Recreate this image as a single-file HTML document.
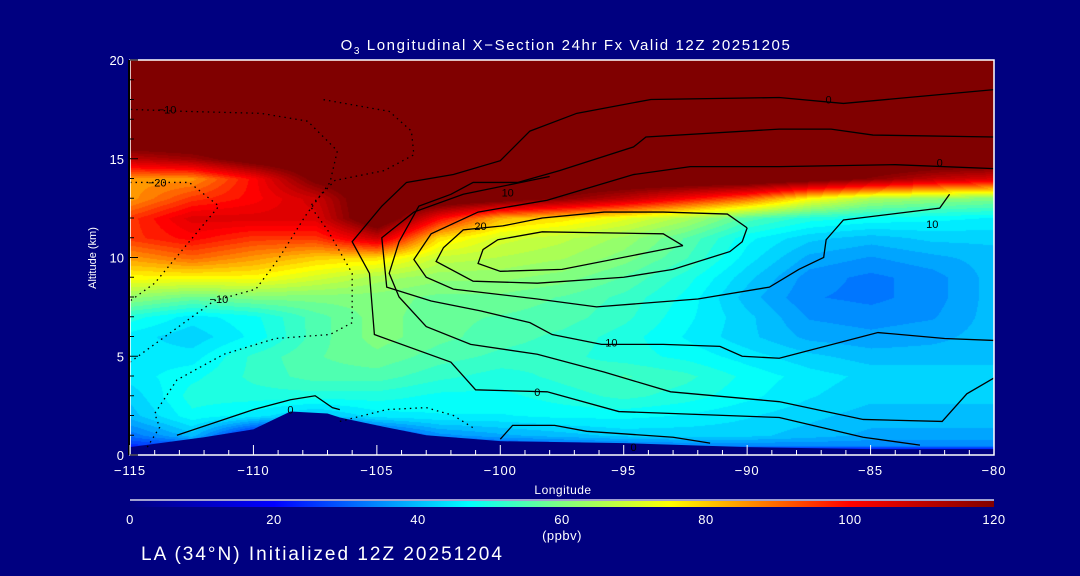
<!DOCTYPE html>
<html><head><meta charset="utf-8"><style>
html,body{margin:0;padding:0;background:#000080;}
#wrap{position:relative;width:1080px;height:576px;background:#000080;overflow:hidden;font-family:"Liberation Sans",sans-serif;color:#fff;}
svg text{font-family:"Liberation Sans",sans-serif;fill:#fff;}
</style></head><body>
<div id="wrap">
<canvas id="cv" width="864" height="395" style="position:absolute;left:130px;top:60px"></canvas>
<svg id="sv" width="1080" height="576" style="position:absolute;left:0;top:0"></svg>
</div>
<script>
const lons=[-115,-112.5,-110,-107.5,-105,-102.5,-100,-97.5,-95,-92.5,-90,-87.5,-85,-82.5,-80];
const alts=[0,0.5,1,2,3,4,5,6,7,8,9,10,11,12,13,14,15,16,20];
const ozone=[
[5,5,5,5,5,5,5,5,5,5,5,5,5,5,5],
[25,28,10,10,15,22,28,30,32,34,34,34,34,34,34],
[32,40,20,10,25,35,38,40,42,42,42,40,38,38,38],
[40,48,45,40,45,46,46,47,47,46,44,42,40,40,40],
[42,50,50,50,50,48,48,50,52,50,47,44,42,42,42],
[45,48,52,55,55,52,50,52,54,52,48,45,43,43,43],
[45,45,52,56,58,55,53,52,50,48,45,42,40,40,40],
[45,42,47,55,60,57,55,53,50,46,42,38,37,38,40],
[50,45,48,55,60,57,56,55,52,47,42,36,35,36,40],
[62,58,60,60,60,58,58,56,53,48,40,34,33,35,40],
[75,75,75,70,65,62,62,60,56,50,42,35,33,35,40],
[85,90,85,80,78,68,66,64,60,54,45,38,36,38,40],
[95,100,95,95,108,78,70,67,63,56,47,42,40,42,42],
[95,105,105,105,130,100,82,78,72,65,55,50,48,47,46],
[85,95,100,108,130,130,125,118,110,100,90,75,65,62,60],
[85,85,100,122,130,130,130,130,130,130,130,125,118,110,105],
[110,115,125,130,130,130,130,130,130,130,130,130,130,130,130],
[130,130,130,130,130,130,130,130,130,130,130,130,130,130,130],
[130,130,130,130,130,130,130,130,130,130,130,130,130,130,130]];
const terrainLon=[-115,-112,-110,-108.5,-107,-106.5,-105,-103,-100,-95,-90,-85,-80];
const terrainAlt=[0.4,0.9,1.3,2.2,2.1,1.9,1.5,1.0,0.7,0.6,0.4,0.3,0.3];
const contourSolid=[
[[-80,18.5],[-86.1,17.8],[-88.7,18.1],[-93.9,18.0],[-96.9,17.3],[-98.8,16.4],[-100,14.9],[-101.9,14.2],[-103.8,13.8],[-104.8,12.6],[-106,10.8],[-105.3,9.2],[-105.1,6.1],[-102,4.7],[-101,3.3],[-98.1,3.2],[-95.2,2.2],[-88.7,1.9],[-85.3,0.9],[-83,0.5]],
[[-80,16.1],[-84.9,16.2],[-86.6,16.5],[-88.7,16.5],[-94.1,16.1],[-94.6,15.6],[-97.6,14.4],[-99.3,13.8],[-101.1,13.8],[-102,13.2],[-103.3,12.6],[-104.1,10.8],[-104.5,9.2],[-104.1,8],[-103,6.5],[-101.2,5.6],[-98.5,5.1],[-95.8,4.2],[-93.1,3.2],[-88.7,2.7],[-85.3,1.8],[-82.1,1.7],[-81.1,3.1],[-80,3.9]],
[[-80,14.5],[-84,14.7],[-88.7,14.6],[-92.3,14.6],[-94.6,14.2],[-98.1,12.9],[-100.9,12.3],[-102.8,11.2],[-103.5,9.9],[-103,9],[-101.9,8.4],[-98.5,7.9],[-96.1,7.5],[-92,7.9],[-89.1,8.5],[-87.9,9.4],[-86.9,10],[-86.8,10.9],[-86.1,11.9],[-82.2,12.5],[-81.8,13.2]],
[[-90,11.5],[-90.8,12.2],[-93.4,12.3],[-95.8,12.3],[-98.3,12],[-99.9,11.6],[-101.5,11.4],[-102.3,10.5],[-102.6,9.8],[-101.1,8.8],[-98.5,8.7],[-95,9],[-93,9.4],[-90.7,10.3],[-90.2,10.8],[-90,11.5]],
[[-92.6,10.6],[-93.4,11.2],[-98.3,11.3],[-100.1,10.9],[-100.7,10.4],[-100.9,9.7],[-100,9.3],[-97.5,9.4],[-92.6,10.6]],
[[-80,5.8],[-82,5.9],[-84.7,6.2],[-88.7,4.9],[-90.2,5],[-91.1,5.5],[-93.4,5.6],[-95.9,5.6],[-97.9,6.1],[-98.8,6.7],[-100.8,7.3],[-102.8,7.8],[-104.6,8.5],[-104.8,11],[-103.5,12.3],[-101.5,13.2],[-98,14.1]],
[[-113.1,1.0],[-110,2.3],[-108.5,2.8],[-107.5,3.0],[-106.8,2.4],[-106.5,2.3]],
[[-100,0.8],[-99.5,1.5],[-97.8,1.5],[-96.5,1.2],[-93,0.9],[-91.5,0.6]]];
const contourDotted=[
[[-115,4.7],[-111.6,7.8],[-109.9,8.4],[-109,9.9],[-107.9,12.1],[-106.9,13.8],[-106.6,15.4],[-107.8,16.9],[-109.7,17.3],[-112.8,17.4],[-115,17.5]],
[[-114.3,0.4],[-113.8,1.4],[-114,2.1],[-113.1,3.8],[-111.2,5.1],[-109.1,5.9],[-106.9,6.1],[-106,6.7],[-106,9.2],[-107,11.4],[-107.7,12.6],[-106.7,13.9],[-104.7,14.4],[-103.5,15.2],[-103.6,16.4],[-104.5,17.4],[-107.2,18.0]],
[[-115,13.8],[-112.6,13.8],[-111.4,12.6],[-112.8,10.5],[-114,8.7],[-115,7.8]],
[[-106.5,1.7],[-104.6,2.3],[-103,2.4],[-101.9,2.0],[-101,1.3]]];
const contourLabels=[["0",-86.7,18.0],["0",-82.2,14.8],["10",-99.7,13.3],["20",-100.8,11.6],["10",-95.5,5.7],["10",-82.5,11.7],["0",-98.5,3.2],["0",-94.6,0.4],["0",-108.5,2.3],["−10",-113.5,17.5],["−20",-113.9,13.8],["−10",-111.4,7.9]];
const xTicks=[-115,-110,-105,-100,-95,-90,-85,-80];
const yTicks=[0,5,10,15,20];
const cbTicks=[0,20,40,60,80,100,120];

const X0=130,X1=994,Y0=60,Y1=455;
const xs=v=>X0+(v-(-115))/35*(X1-X0);
const ys=v=>Y1-(v/20)*(Y1-Y0);
const stops=[[0,[0,0,128]],[20,[0,0,255]],[47,[0,255,255]],[60,[128,255,128]],[75,[255,255,0]],[100,[255,0,0]],[120,[128,0,0]]];
function cmap(v){v=Math.max(0,Math.min(120,Math.round(v/2.5)*2.5));
 for(let i=1;i<stops.length;i++){if(v<=stops[i][0]){const a=stops[i-1],b=stops[i],t=(v-a[0])/(b[0]-a[0]);return a[1].map((c,k)=>Math.round(c+(b[1][k]-c)*t));}}return stops[stops.length-1][1];}
function idx(arr,v){for(let i=0;i<arr.length-1;i++){if(v<=arr[i+1])return [i,(v-arr[i])/(arr[i+1]-arr[i])];}return [arr.length-2,1];}
const cv=document.getElementById('cv'),ctx=cv.getContext('2d');
const img=ctx.createImageData(864,395);
for(let py=0;py<395;py++){const alt=(395-py)/395*20;const [j,ty]=idx(alts,alt);
 for(let px=0;px<864;px++){const lon=-115+px/864*35;const [i,tx]=idx(lons,lon);
  const v=(ozone[j][i]*(1-tx)+ozone[j][i+1]*tx)*(1-ty)+(ozone[j+1][i]*(1-tx)+ozone[j+1][i+1]*tx)*ty;
  const c=cmap(v);const o=(py*864+px)*4;img.data[o]=c[0];img.data[o+1]=c[1];img.data[o+2]=c[2];img.data[o+3]=255;}}
ctx.putImageData(img,0,0);
const NS='http://www.w3.org/2000/svg',sv=document.getElementById('sv');
function mk(t,a,p){const e=document.createElementNS(NS,t);for(const k in a)e.setAttribute(k,a[k]);(p||sv).appendChild(e);return e;}
let tp='M'+xs(-115)+','+ys(0);terrainLon.forEach((l,i)=>tp+=' L'+xs(l)+','+ys(terrainAlt[i]));tp+=' L'+xs(-80)+','+ys(0)+' Z';
const ter=mk('path',{d:tp,fill:'#000080'});


contourSolid.forEach(line=>{const e=mk('polyline',{points:line.map(p=>xs(p[0])+','+ys(p[1])).join(' '),fill:'none',stroke:'#000','stroke-width':1.3});
 
 });
contourDotted.forEach(line=>{const e=mk('polyline',{points:line.map(p=>xs(p[0])+','+ys(p[1])).join(' '),fill:'none',stroke:'#000','stroke-width':1.3,'stroke-dasharray':'1.5,4'});
 
 });
contourLabels.forEach(l=>{const e=mk('text',{x:xs(l[1]),y:ys(l[2])+4,'text-anchor':'middle','font-size':11});e.style.fill='#000';e.textContent=l[0];
 
 });
const fr=mk('rect',{x:X0,y:Y0,width:X1-X0,height:Y1-Y0,fill:'none',stroke:'#fff','stroke-width':1.5});


mk('line',{x1:X0-1,y1:Y0,x2:X0-1,y2:Y1,stroke:'#000','stroke-width':2});
for(let v=-115;v<=-80;v++){const maj=xTicks.includes(v);mk('line',{x1:xs(v),y1:Y1,x2:xs(v),y2:Y1-(maj?10:5),stroke:'#fff','stroke-width':1});}
for(let v=0;v<=20;v++){mk('line',{x1:X0,y1:ys(v),x2:X0+(v%5==0?8:4),y2:ys(v),stroke:'#000','stroke-width':1});}
xTicks.forEach(v=>{const e=mk('text',{x:xs(v),y:475,'text-anchor':'middle','font-size':13,'letter-spacing':1});e.textContent=(v<0?'−':'')+Math.abs(v);
 
 });
yTicks.forEach(v=>{const e=mk('text',{x:124,y:ys(v)+5,'text-anchor':'end','font-size':13});e.textContent=v;
 
 });
let e=mk('text',{x:563,y:494,'text-anchor':'middle','font-size':12,'letter-spacing':0.5});e.textContent='Longitude';


e=mk('text',{x:96,y:258,'text-anchor':'middle','font-size':11,transform:'rotate(-90 96 258)'});e.textContent='Altitude (km)';


e=mk('text',{x:566,y:50,'text-anchor':'middle','font-size':15,'letter-spacing':1.6});
e.innerHTML='O<tspan font-size="10" dy="4">3</tspan><tspan dy="-4"> Longitudinal X−Section 24hr  Fx Valid 12Z 20251205</tspan>';


const defs=mk('defs',{});const g=mk('linearGradient',{id:'cb',x1:0,x2:1,y1:0,y2:0},defs);
stops.forEach(s=>mk('stop',{offset:s[0]/120,'stop-color':'rgb('+s[1].join(',')+')'},g));
mk('line',{x1:X0,y1:500,x2:X1,y2:500,stroke:'#fff','stroke-width':1.2});
e=mk('rect',{x:X0,y:501,width:X1-X0,height:6,fill:'url(#cb)'});


cbTicks.forEach(v=>{const t=mk('text',{x:X0+v/120*(X1-X0),y:524,'text-anchor':'middle','font-size':13,'letter-spacing':0.5});t.textContent=v;
 
 });
e=mk('text',{x:562,y:540,'text-anchor':'middle','font-size':13,'letter-spacing':0.5});e.textContent='(ppbv)';


e=mk('text',{x:141,y:560,'font-size':19,'letter-spacing':2});e.textContent='LA (34°N) Initialized 12Z 20251204';


</script>
</body></html>
